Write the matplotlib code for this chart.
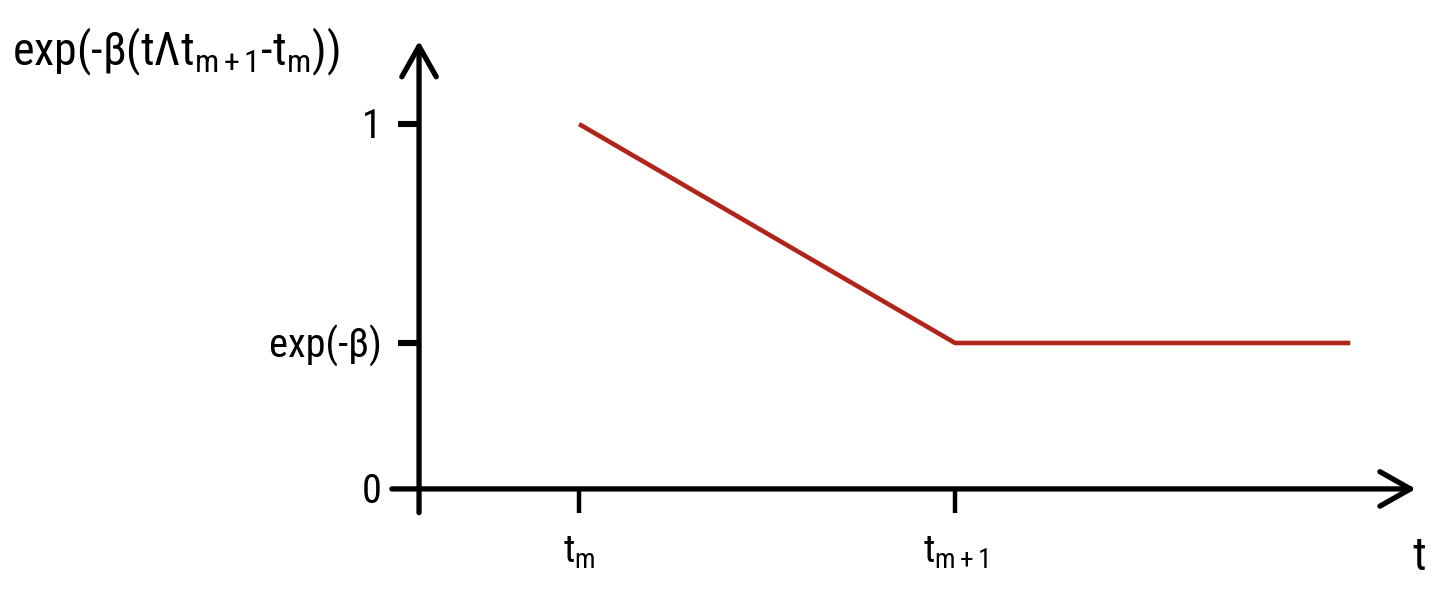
import matplotlib
matplotlib.use("Agg")
import matplotlib.pyplot as plt
from matplotlib import font_manager as fm

# pick a condensed sans if one is installed
installed = {f.name for f in fm.fontManager.ttflist}
family = next((f for f in ['Roboto Condensed', 'IBM Plex Sans Condensed',
                           'Liberation Sans Narrow', 'Liberation Sans']
               if f in installed), 'DejaVu Sans')

plt.rcParams['font.family'] = [family, 'DejaVu Sans']
plt.rcParams['mathtext.fontset'] = 'custom'
plt.rcParams['mathtext.rm'] = family
plt.rcParams['mathtext.it'] = family

# data (schematic): time positions and function values
t_pos = [1.0, 3.35]                 # t_m, t_{m+1}
t_labels = [r't$_\mathrm{m}$', r't$_\mathrm{m+1}$']
y_pos = [0.0, 0.4, 1.0]
y_labels = ['0', 'exp(-β)', '1']
curve_t = [1.0, 3.35, 5.82]
curve_y = [1.0, 0.4, 0.4]

red = '#b0241a'

fig = plt.figure(figsize=(14.4, 5.9), dpi=100)
ax = fig.add_axes([0, 0, 1, 1])
ax.set_xlim(-2.619, 6.381)
ax.set_ylim(-0.277, 1.340)
ax.axis('off')

lw_axis = 3.8

# axes with open arrowheads
ax.annotate('', xy=(6.23, 0), xytext=(-0.17, 0),
            arrowprops=dict(arrowstyle='->,head_length=1.1,head_width=0.62',
                            lw=lw_axis, color='black', mutation_scale=20,
                            shrinkA=0, shrinkB=0))
ax.annotate('', xy=(0, 1.228), xytext=(0, -0.065),
            arrowprops=dict(arrowstyle='->,head_length=1.1,head_width=0.62',
                            lw=lw_axis, color='black', mutation_scale=20,
                            shrinkA=0, shrinkB=0))

# ticks
for tx, lab in zip(t_pos, t_labels):
    ax.plot([tx, tx], [0, -0.065], color='black', lw=lw_axis - 0.6,
            solid_capstyle='butt')
    ax.text(tx, -0.203, lab, fontsize=28, ha='center', va='baseline')
for yv, lab in zip(y_pos, y_labels):
    if yv > 0:
        ax.plot([-0.13, 0], [yv, yv], color='black', lw=lw_axis + 0.6,
                solid_capstyle='butt')
    ax.text(-0.235, yv - 0.008, lab, fontsize=29, ha='right', va='center')

# curve
ax.plot(curve_t, curve_y, color=red, lw=3.3, solid_capstyle='butt')

# axis labels
ax.text(6.25, -0.222, 't', fontsize=33, ha='center', va='baseline')
ax.text(-2.545, 1.16,
        r'exp(-β(tΛt$_\mathrm{m+1}$-t$_\mathrm{m}$))',
        fontsize=33, ha='left', va='baseline')

fig.savefig('out.png', dpi=100)
